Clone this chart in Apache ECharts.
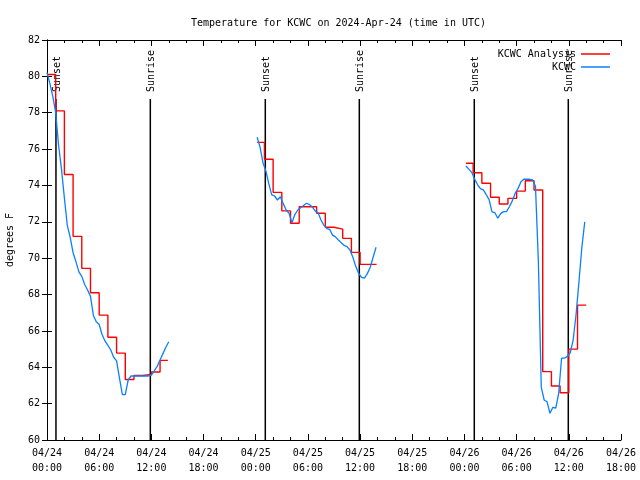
<!DOCTYPE html>
<html><head><meta charset="utf-8">
<script src="https://cdn.jsdelivr.net/npm/echarts@6/dist/echarts.min.js"></script>
<style>html,body{margin:0;padding:0;background:#fff}#c{width:640px;height:480px}</style>
</head><body><div id="c"></div>
<script>
const titleText = 'Temperature for KCWC on 2024-Apr-24 (time in UTC)';
const yAxisName = 'degrees F';
const seriesNames = ['KCWC Analysis', 'KCWC'];
const xTickLabels = ['04/24\n00:00','04/24\n06:00','04/24\n12:00','04/24\n18:00',
  '04/25\n00:00','04/25\n06:00','04/25\n12:00','04/25\n18:00',
  '04/26\n00:00','04/26\n06:00','04/26\n12:00','04/26\n18:00'];
// hours after 04/24 00:00 UTC
const sunEventHours = [1.03, 11.88, 25.1, 35.91, 49.13, 59.94];
const sunEventLabels = ['Sunset','Sunrise','Sunset','Sunrise','Sunset','Sunrise'];

// Analysis (hourly, stepped)
const redHours1 = [0,1,2,3,4,5,6,7,8,9,10,11,12,13,13.9];
const redSeg1 = [80.1,78.1,74.6,71.2,69.44,68.1,66.87,65.65,64.78,63.33,63.55,63.6,63.74,64.38,64.38];
const redHours2 = [24.17,25,26,27,28,29,30,31,32,33,34,35,36,37,37.9];
const redSeg2 = [76.37,75.44,73.62,72.6,71.92,72.83,72.83,72.47,71.7,71.6,71.09,70.32,69.66,69.66,69.66];
const redHours3 = [48.17,49,50,51,52,53,54,55,56,57,58,59,60,61,62];
const redSeg3 = [75.22,74.7,74.12,73.35,72.98,73.29,73.69,74.26,73.75,63.76,62.97,62.6,65.0,67.42,67.42];

// Observations, every 20 minutes from segment start
const blueStarts = [0, 24 + 1/6, 48 + 1/6];
const blueSeg1 = [80.2,79.6,78.9,78.0,76.2,74.9,73.3,71.8,71.15,70.3,69.8,69.25,69.0,68.55,68.25,67.9,
  66.85,66.5,66.35,65.8,65.45,65.2,64.95,64.55,64.35,63.4,62.5,62.5,63.3,63.52,63.52,63.52,63.52,63.52,
  63.52,63.52,63.57,63.8,64.05,64.4,64.75,65.1,65.4];
const blueSeg2 = [76.65,76.1,75.25,74.8,74.1,73.5,73.42,73.2,73.38,73.0,72.65,72.47,71.95,72.4,72.65,
  72.77,72.9,73.02,72.95,72.82,72.6,72.5,72.1,71.82,71.63,71.59,71.27,71.17,71.0,70.85,70.7,70.64,70.45,
  70.05,69.55,69.17,68.95,68.9,69.15,69.5,70.05,70.6];
const blueSeg3 = [75.07,74.9,74.72,74.35,74.05,73.82,73.76,73.5,73.22,72.55,72.5,72.2,72.45,72.56,72.56,
  72.83,73.15,73.57,73.84,74.2,74.34,74.34,74.34,74.3,73.95,69.8,62.9,62.2,62.1,61.47,61.8,61.75,62.57,
  64.5,64.5,64.6,64.8,65.5,66.9,68.7,70.6,72.0];

const FONT = '"DejaVu Sans Mono", "Liberation Mono", monospace';
const RED = '#ff0000', BLUE = '#0a80ff';

const redSegs = [[redHours1, redSeg1], [redHours2, redSeg2], [redHours3, redSeg3]]
  .map(([hs, vs]) => hs.map((h, i) => [h, vs[i]]));
const blueSegs = [blueSeg1, blueSeg2, blueSeg3].map((seg, k) =>
  seg.map((v, i) => [blueStarts[k] + i / 3, v]));

const series = [{
  type: 'custom', name: 'sun', xAxisIndex: 0, yAxisIndex: 0, z: 1, silent: true,
  data: sunEventHours.map(h => [h, 60]),
  encode: {x: 0, y: 1},
  renderItem: function (params, api) {
    const t = api.value(0);
    const b = api.coord([t, 60]);
    const top = api.coord([t, 78.75]);
    return {type: 'group', children: [
      {type: 'line', shape: {x1: b[0], y1: b[1], x2: top[0], y2: top[1]},
        style: {stroke: '#000', lineWidth: 1.5}},
      {type: 'text', x: top[0] + 1.5, y: top[1] - 7, rotation: Math.PI / 2,
        style: {text: sunEventLabels[params.dataIndex], fill: '#000',
          font: '10px ' + FONT, align: 'left', verticalAlign: 'middle'}}
    ]};
  }
}];
redSegs.forEach(d => series.push({
  type: 'line', name: seriesNames[0], data: d, step: 'end',
  symbol: 'none', showSymbol: false, z: 2,
  itemStyle: {color: RED}, lineStyle: {color: RED, width: 1.4}
}));
blueSegs.forEach(d => series.push({
  type: 'line', name: seriesNames[1], data: d,
  symbol: 'none', showSymbol: false, z: 3,
  itemStyle: {color: BLUE}, lineStyle: {color: BLUE, width: 1.3}
}));

const chart = echarts.init(document.getElementById('c'), null, {renderer: 'canvas'});
const commonX = {type: 'value', min: 0, max: 66, interval: 6};
const commonY = {type: 'value', min: 60, max: 82, interval: 2};
chart.setOption({
  animation: false,
  backgroundColor: '#fff',
  title: {text: titleText, left: 186, top: 13,
    textStyle: {fontFamily: FONT, fontSize: 10, fontWeight: 'normal', color: '#000'}},
  legend: {
    data: seriesNames.map(n => ({name: n, icon: 'rect'})),
    orient: 'vertical', align: 'right', right: 25, top: 43,
    itemWidth: 29, itemHeight: 1.5, itemGap: 1,
    textStyle: {fontFamily: FONT, fontSize: 10, color: '#000', lineHeight: 12}
  },
  grid: {left: 47, top: 40, width: 574, height: 400, containLabel: false, outerBoundsMode: 'none'},
  xAxis: [
    Object.assign({}, commonX, {
      position: 'bottom',
      axisLine: {show: true, lineStyle: {color: '#000', width: 1}},
      axisTick: {show: true, inside: true, length: 6, lineStyle: {color: '#000'}},
      minorTick: {show: true, splitNumber: 3, length: 3, lineStyle: {color: '#000'}},
      splitLine: {show: false}, minorSplitLine: {show: false},
      axisLabel: {margin: 6, fontFamily: FONT, fontSize: 10, color: '#000', lineHeight: 15,
        formatter: v => xTickLabels[Math.round(v / 6)]}
    }),
    Object.assign({}, commonX, {
      position: 'top',
      axisLine: {show: true, lineStyle: {color: '#000', width: 1}},
      axisTick: {show: true, inside: true, length: 6, lineStyle: {color: '#000'}},
      minorTick: {show: true, splitNumber: 3, length: 3, lineStyle: {color: '#000'}},
      splitLine: {show: false}, axisLabel: {show: false}
    })
  ],
  yAxis: [
    Object.assign({}, commonY, {
      position: 'left',
      name: yAxisName, nameLocation: 'middle', nameRotate: 90, nameGap: 32,
      nameTextStyle: {fontFamily: FONT, fontSize: 10, color: '#000'},
      axisLine: {show: true, lineStyle: {color: '#000', width: 1}},
      axisTick: {show: true, inside: true, length: 5, lineStyle: {color: '#000'}},
      splitLine: {show: false},
      axisLabel: {margin: 7, fontFamily: FONT, fontSize: 10, color: '#000'}
    }),
    Object.assign({}, commonY, {
      position: 'right',
      axisLine: {show: true, lineStyle: {color: '#000', width: 1}},
      axisTick: {show: true, inside: true, length: 5, lineStyle: {color: '#000'}},
      splitLine: {show: false}, axisLabel: {show: false}
    })
  ],
  series: series
});
</script>
</body></html>
